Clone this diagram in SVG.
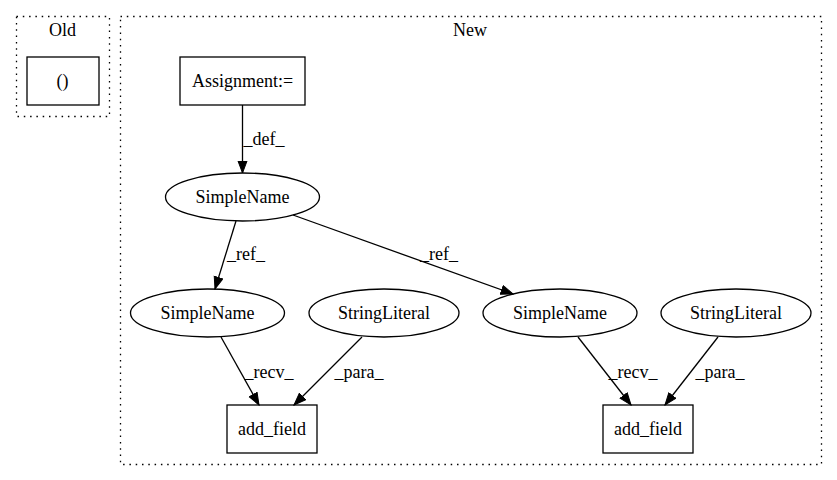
<svg xmlns="http://www.w3.org/2000/svg" width="837" height="480" viewBox="0 0 837 480">
<style>
text{font-family:'Liberation Serif','Times New Roman',Times,'DejaVu Serif',serif;font-size:18px;text-anchor:middle;fill:#000}
.cl{fill:none;stroke:#000;stroke-width:1.3;stroke-dasharray:1.5,4.8}
.n{fill:none;stroke:#000;stroke-width:1.3}
.e{fill:none;stroke:#000;stroke-width:1.3;marker-end:url(#ah)}
</style>
<defs>
<marker id="ah" markerUnits="userSpaceOnUse" markerWidth="14" markerHeight="11" refX="12.5" refY="5" orient="auto">
<path d="M0.5,0.5 L12.5,5 L0.5,9.5 z" fill="#000" stroke="#000" stroke-width="1"/>
</marker>
</defs>
<rect width="837" height="480" fill="#fff"/>
<g id="cluster_old">
<rect class="cl" x="16.5" y="16.5" width="93" height="100"/>
<text x="62.5" y="36">Old</text>
</g>
<g id="cluster_new">
<rect class="cl" x="120.5" y="16.5" width="701" height="448"/>
<text x="470" y="36">New</text>
</g>
<g id="old_paren">
<rect class="n" x="27" y="57" width="72" height="48"/>
<text x="62.5" y="87">()</text>
</g>
<g id="assignment">
<rect class="n" x="180" y="57" width="125" height="48"/>
<text x="242.5" y="87">Assignment:=</text>
</g>
<g id="simplename_top">
<ellipse class="n" cx="242.5" cy="197" rx="77" ry="24"/>
<text x="242.5" y="203">SimpleName</text>
</g>
<g id="simplename_left">
<ellipse class="n" cx="207.5" cy="313" rx="77" ry="24"/>
<text x="207.5" y="319">SimpleName</text>
</g>
<g id="stringliteral_left">
<ellipse class="n" cx="384" cy="313" rx="75" ry="24"/>
<text x="384" y="319">StringLiteral</text>
</g>
<g id="simplename_right">
<ellipse class="n" cx="560" cy="313" rx="77" ry="24"/>
<text x="560" y="319">SimpleName</text>
</g>
<g id="stringliteral_right">
<ellipse class="n" cx="736" cy="313" rx="75" ry="24"/>
<text x="736" y="319">StringLiteral</text>
</g>
<g id="add_field_left">
<rect class="n" x="227" y="405" width="90" height="48"/>
<text x="272" y="435">add_field</text>
</g>
<g id="add_field_right">
<rect class="n" x="603" y="405" width="90" height="48"/>
<text x="648" y="435">add_field</text>
</g>
<g id="connectors">
<path class="e" d="M242.5,105 L242.5,173"/>
<text x="264" y="145">_def_</text>
<path class="e" d="M236,221 L215,289"/>
<text x="246" y="260">_ref_</text>
<path class="e" d="M293,215 L513,294"/>
<text x="439" y="260">_ref_</text>
<path class="e" d="M221,337 L259,405"/>
<text x="269" y="378">_recv_</text>
<path class="e" d="M362,337 L294,405"/>
<text x="359" y="378">_para_</text>
<path class="e" d="M578,337 L631,405"/>
<text x="633" y="378">_recv_</text>
<path class="e" d="M718,337 L665,405"/>
<text x="720" y="378">_para_</text>
</g>
</svg>
